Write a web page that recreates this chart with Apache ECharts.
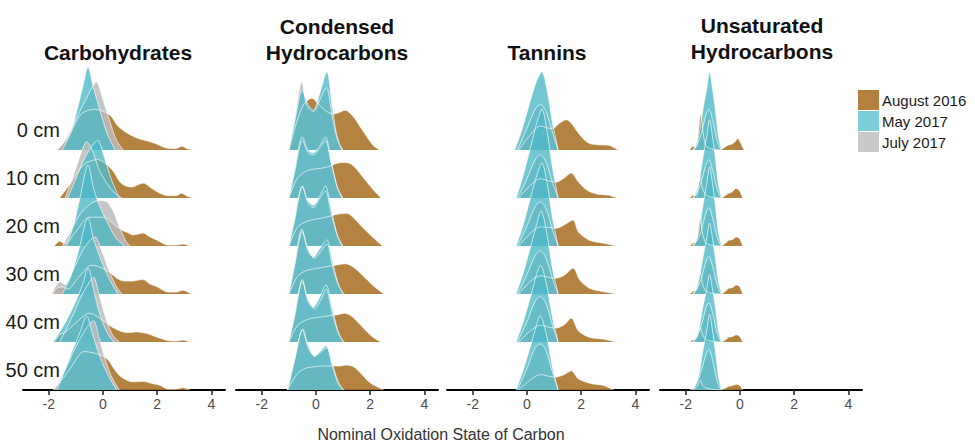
<!DOCTYPE html>
<html><head><meta charset="utf-8">
<script src="https://cdn.jsdelivr.net/npm/echarts@6/dist/echarts.min.js"></script>
<style>html,body{margin:0;padding:0;background:#fff}#c{width:975px;height:443px}</style>
</head><body><div id="c"></div>
<script>
// ---------- data ----------
const depths = ['0 cm', '10 cm', '20 cm', '30 cm', '40 cm', '50 cm'];
const classes = ['Carbohydrates', 'Condensed\nHydrocarbons', 'Tannins', 'Unsaturated\nHydrocarbons'];
const campaigns = ['August 2016', 'May 2017', 'July 2017'];
const xTicks = [-2, 0, 2, 4];
const axisTitle = 'Nominal Oxidation State of Carbon';

// density curves: one list of [oxidation state, density] per depth (0 cm ... 50 cm)
const carbAug = [
  [[-1.7,0],[-1.3,0.25],[-0.8,0.75],[-0.3,0.85],[0.25,0.73],[0.55,0.5],[0.9,0.35],[1.3,0.24],[1.7,0.18],[2.0,0.12],[2.35,0.04],[2.7,0.03],[2.9,0.08],[3.1,0.03],[3.3,0]],
  [[-1.6,0],[-1.2,0.3],[-0.7,0.7],[-0.2,0.8],[0.35,0.58],[0.63,0.33],[0.9,0.24],[1.1,0.23],[1.3,0.28],[1.5,0.31],[1.75,0.22],[2.1,0.1],[2.4,0.05],[2.7,0.05],[2.9,0.1],[3.1,0.04],[3.3,0]],
  [[-1.8,0],[-1.6,0.1],[-1.4,0.05],[-1.0,0.3],[-0.5,0.6],[0.0,0.6],[0.5,0.4],[0.7,0.33],[0.9,0.28],[1.1,0.23],[1.3,0.25],[1.48,0.27],[1.7,0.2],[2.0,0.12],[2.4,0.02],[2.7,0.02],[2.95,0.04],[3.2,0]],
  [[-1.85,0],[-1.7,0.12],[-1.5,0.15],[-1.3,0.1],[-0.9,0.35],[-0.4,0.6],[0.1,0.5],[0.63,0.29],[0.9,0.27],[1.1,0.27],[1.3,0.29],[1.48,0.3],[1.7,0.22],[2.0,0.15],[2.4,0.04],[2.7,0.04],[2.95,0.08],[3.25,0]],
  [[-1.8,0],[-1.6,0.15],[-1.4,0.2],[-1.0,0.4],[-0.5,0.6],[0.0,0.45],[0.33,0.31],[0.55,0.25],[0.74,0.21],[1.0,0.2],[1.25,0.21],[1.6,0.18],[2.0,0.1],[2.4,0.03],[2.7,0.02],[2.95,0.04],[3.2,0]],
  [[-1.85,0],[-1.6,0.15],[-1.2,0.45],[-0.7,0.8],[-0.2,0.75],[0.15,0.65],[0.4,0.45],[0.63,0.29],[0.9,0.2],[1.1,0.17],[1.4,0.18],[1.6,0.17],[1.85,0.13],[2.1,0.1],[2.4,0.02],[2.7,0.02],[2.95,0.05],[3.2,0]]
];
const carbMay = [
  [[-1.5,0],[-1.2,0.35],[-0.95,0.85],[-0.75,1.3],[-0.55,1.73],[-0.35,1.3],[-0.1,0.8],[0.15,0.35],[0.45,0]],
  [[-1.3,0],[-1.0,0.4],[-0.7,0.8],[-0.45,1.05],[-0.2,1.2],[0.05,0.85],[0.3,0.4],[0.6,0]],
  [[-1.35,0],[-1.1,0.4],[-0.85,1.0],[-0.55,1.69],[-0.35,1.2],[-0.1,0.8],[0.2,0.45],[0.5,0.15],[0.8,0]],
  [[-1.5,0],[-1.2,0.35],[-0.9,0.9],[-0.55,1.58],[-0.35,1.15],[-0.1,0.75],[0.2,0.35],[0.55,0]],
  [[-1.85,0],[-1.6,0.2],[-1.3,0.5],[-1.0,0.85],[-0.75,1.2],[-0.55,1.54],[-0.35,1.1],[-0.1,0.55],[0.15,0.2],[0.4,0]],
  [[-1.7,0],[-1.45,0.35],[-1.15,0.79],[-0.85,1.2],[-0.6,1.54],[-0.4,1.2],[-0.15,0.75],[0.15,0.35],[0.5,0]]
];
const carbJul = [
  [[-1.65,0],[-1.3,0.3],[-0.9,0.75],[-0.5,1.2],[-0.25,1.42],[0.0,1.05],[0.25,0.6],[0.5,0.2],[0.75,0]],
  [[-1.4,0],[-1.1,0.45],[-0.8,0.95],[-0.6,1.17],[-0.4,1.0],[-0.15,0.6],[0.15,0.3],[0.45,0.1],[0.7,0]],
  [[-1.5,0],[-1.2,0.3],[-0.8,0.7],[-0.4,0.9],[-0.1,0.95],[0.15,0.92],[0.4,0.7],[0.6,0.4],[0.85,0.1],[1.0,0]],
  [[-1.9,0],[-1.6,0.25],[-1.4,0.2],[-1.1,0.5],[-0.7,0.95],[-0.3,1.19],[-0.05,0.9],[0.25,0.45],[0.5,0.15],[0.7,0]],
  [[-1.6,0],[-1.2,0.45],[-0.8,0.95],[-0.5,1.25],[-0.35,1.35],[-0.15,1.0],[0.1,0.5],[0.35,0.15],[0.6,0]],
  [[-1.8,0],[-1.5,0.3],[-1.0,0.9],[-0.6,1.3],[-0.35,1.44],[-0.15,1.1],[0.05,0.7],[0.3,0.3],[0.6,0]]
];

const condAug = [
  [[-1.0,0],[-0.7,0.6],[-0.45,0.95],[-0.15,1.08],[0.1,0.95],[0.4,0.8],[0.65,0.75],[0.85,0.78],[1.07,0.83],[1.37,0.7],[1.73,0.4],[2.1,0.1],[2.35,0]],
  [[-1.0,0],[-0.7,0.4],[-0.4,0.55],[-0.1,0.6],[0.2,0.62],[0.5,0.66],[0.75,0.72],[1.0,0.74],[1.25,0.72],[1.5,0.6],[1.75,0.42],[2.1,0.18],[2.4,0]],
  [[-1.0,0],[-0.7,0.38],[-0.4,0.5],[-0.1,0.55],[0.2,0.58],[0.5,0.62],[0.77,0.66],[1.14,0.68],[1.4,0.58],[1.7,0.4],[2.1,0.18],[2.45,0]],
  [[-1.0,0],[-0.7,0.35],[-0.4,0.48],[-0.1,0.52],[0.2,0.55],[0.5,0.58],[0.9,0.62],[1.1,0.63],[1.4,0.55],[1.7,0.4],[2.1,0.18],[2.5,0]],
  [[-1.0,0],[-0.7,0.33],[-0.4,0.45],[-0.1,0.5],[0.2,0.52],[0.5,0.55],[0.8,0.57],[1.07,0.6],[1.35,0.52],[1.7,0.32],[2.1,0.1],[2.4,0]],
  [[-1.05,0],[-0.7,0.33],[-0.4,0.45],[-0.1,0.48],[0.2,0.5],[0.5,0.5],[0.9,0.5],[1.1,0.52],[1.4,0.48],[1.7,0.32],[2.0,0.15],[2.5,0]]
];
const condMay = [
  [[-1.0,0],[-0.8,0.55],[-0.5,1.25],[-0.3,0.95],[-0.1,0.83],[0.15,1.2],[0.4,1.63],[0.6,0.9],[0.75,0.35],[0.95,0]],
  [[-1.0,0],[-0.8,0.55],[-0.5,1.27],[-0.3,1.0],[-0.1,0.94],[0.15,1.1],[0.35,1.27],[0.55,0.8],[0.75,0.3],[0.95,0]],
  [[-1.0,0],[-0.8,0.5],[-0.5,1.23],[-0.3,0.95],[-0.1,0.85],[0.15,1.05],[0.35,1.25],[0.55,0.8],[0.75,0.3],[0.95,0]],
  [[-1.0,0],[-0.8,0.55],[-0.5,1.29],[-0.3,0.95],[-0.1,0.77],[0.15,0.95],[0.4,1.13],[0.6,0.7],[0.8,0.25],[1.0,0]],
  [[-1.0,0],[-0.8,0.5],[-0.5,1.25],[-0.3,0.9],[-0.1,0.73],[0.15,0.95],[0.37,1.19],[0.6,0.7],[0.8,0.25],[1.0,0]],
  [[-1.05,0],[-0.8,0.6],[-0.48,1.27],[-0.3,0.95],[-0.05,0.71],[0.15,0.8],[0.37,0.92],[0.6,0.55],[0.8,0.2],[1.0,0]]
];
const condJul = [
  [[-1.0,0],[-0.8,0.6],[-0.52,1.42],[-0.35,0.95],[-0.1,0.8],[0.15,1.05],[0.38,1.3],[0.6,0.7],[0.8,0.2],[1.0,0]],
  [[-1.0,0],[-0.8,0.5],[-0.5,1.2],[-0.3,0.95],[-0.1,0.9],[0.15,1.05],[0.35,1.2],[0.55,0.75],[0.8,0.2],[1.0,0]],
  [[-1.0,0],[-0.8,0.55],[-0.5,1.25],[-0.3,0.9],[-0.1,0.8],[0.15,1.0],[0.35,1.15],[0.55,0.7],[0.8,0.2],[1.0,0]],
  [[-1.0,0],[-0.8,0.6],[-0.52,1.35],[-0.3,0.9],[-0.05,0.75],[0.2,0.9],[0.4,1.05],[0.6,0.6],[0.85,0.15],[1.05,0]],
  [[-1.0,0],[-0.8,0.55],[-0.5,1.3],[-0.3,0.85],[-0.05,0.7],[0.2,0.9],[0.37,1.1],[0.6,0.6],[0.85,0.15],[1.05,0]],
  [[-1.05,0],[-0.8,0.6],[-0.5,1.25],[-0.3,0.9],[-0.05,0.7],[0.2,0.8],[0.4,0.88],[0.6,0.5],[0.85,0.1],[1.05,0]]
];

const tanAug = [
  [[-0.3,0],[0.1,0.3],[0.5,0.5],[0.85,0.45],[1.0,0.46],[1.2,0.56],[1.45,0.63],[1.63,0.56],[1.9,0.35],[2.25,0.15],[2.6,0.11],[3.0,0.1],[3.36,0]],
  [[-0.3,0],[0.1,0.25],[0.5,0.4],[0.85,0.35],[1.07,0.33],[1.33,0.4],[1.63,0.52],[1.9,0.33],[2.25,0.15],[2.6,0.08],[3.0,0.06],[3.3,0]],
  [[-0.3,0],[0.1,0.25],[0.5,0.4],[0.85,0.38],[1.07,0.37],[1.4,0.45],[1.7,0.54],[1.9,0.29],[2.3,0.12],[2.8,0.06],[3.3,0]],
  [[-0.3,0],[0.1,0.25],[0.5,0.38],[0.85,0.34],[1.07,0.33],[1.4,0.4],[1.7,0.54],[1.95,0.29],[2.3,0.12],[2.8,0.05],[3.3,0]],
  [[-0.3,0],[0.1,0.22],[0.5,0.35],[0.85,0.3],[1.07,0.29],[1.4,0.37],[1.63,0.5],[1.9,0.23],[2.3,0.1],[2.8,0.06],[3.3,0]],
  [[-0.3,0],[0.1,0.2],[0.5,0.32],[0.85,0.28],[1.07,0.27],[1.4,0.33],[1.63,0.4],[1.9,0.23],[2.4,0.13],[2.8,0.1],[3.2,0]]
];
const tanMay = [
  [[-0.45,0],[-0.2,0.4],[0.1,0.98],[0.35,1.43],[0.55,1.63],[0.75,1.22],[0.95,0.54],[1.15,0]],
  [[-0.4,0],[-0.15,0.45],[0.15,1.1],[0.38,1.6],[0.55,1.85],[0.75,1.35],[0.95,0.6],[1.15,0]],
  [[-0.4,0],[-0.15,0.42],[0.15,1.05],[0.38,1.5],[0.55,1.73],[0.75,1.28],[0.95,0.55],[1.15,0]],
  [[-0.4,0],[-0.15,0.42],[0.15,1.02],[0.38,1.5],[0.52,1.73],[0.72,1.3],[0.95,0.5],[1.15,0]],
  [[-0.4,0],[-0.15,0.4],[0.15,0.98],[0.35,1.4],[0.5,1.6],[0.7,1.25],[0.95,0.48],[1.15,0]],
  [[-0.4,0],[-0.15,0.4],[0.15,0.95],[0.35,1.35],[0.48,1.55],[0.7,1.2],[0.95,0.45],[1.15,0]]
];
const tanJul = [
  [[-0.35,0],[0.0,0.45],[0.3,0.85],[0.5,0.95],[0.7,0.8],[0.95,0.35],[1.15,0]],
  [[-0.35,0],[0.0,0.4],[0.3,0.8],[0.5,0.9],[0.7,0.75],[0.95,0.3],[1.15,0]],
  [[-0.35,0],[0.0,0.42],[0.3,0.82],[0.5,0.92],[0.7,0.78],[0.95,0.32],[1.15,0]],
  [[-0.35,0],[0.0,0.4],[0.3,0.8],[0.5,0.9],[0.7,0.75],[0.95,0.3],[1.15,0]],
  [[-0.35,0],[0.0,0.42],[0.3,0.85],[0.5,0.95],[0.7,0.8],[0.95,0.33],[1.15,0]],
  [[-0.35,0],[0.0,0.45],[0.3,0.88],[0.5,0.96],[0.7,0.82],[0.95,0.35],[1.15,0]]
];

const unsAug = [
  [[-1.85,0],[-1.75,0.08],[-1.62,0.05],[-1.52,0.45],[-1.44,0.77],[-1.36,0.35],[-1.25,0.08],[-1.1,0.03],[-0.75,0],[-0.58,0.05],[-0.45,0.1],[-0.32,0.12],[-0.2,0.16],[-0.08,0.24],[0.03,0.14],[0.15,0]],
  [[-1.85,0],[-1.72,0.06],[-1.6,0.05],[-1.52,0.3],[-1.46,0.42],[-1.38,0.2],[-1.25,0.06],[-1.1,0.02],[-0.7,0],[-0.55,0.05],[-0.42,0.1],[-0.3,0.12],[-0.15,0.2],[-0.03,0.16],[0.1,0]],
  [[-1.85,0],[-1.72,0.06],[-1.6,0.1],[-1.52,0.4],[-1.46,0.58],[-1.38,0.25],[-1.25,0.06],[-1.1,0.02],[-0.7,0],[-0.55,0.05],[-0.42,0.12],[-0.3,0.13],[-0.12,0.19],[0.0,0.14],[0.1,0]],
  [[-1.85,0],[-1.72,0.06],[-1.6,0.08],[-1.52,0.32],[-1.46,0.44],[-1.38,0.2],[-1.25,0.06],[-1.1,0.02],[-0.7,0],[-0.55,0.05],[-0.42,0.12],[-0.3,0.13],[-0.12,0.19],[0.0,0.14],[0.1,0]],
  [[-1.85,0],[-1.72,0.05],[-1.6,0.08],[-1.52,0.22],[-1.46,0.3],[-1.38,0.15],[-1.25,0.05],[-1.1,0.02],[-0.7,0],[-0.55,0.04],[-0.42,0.1],[-0.3,0.11],[-0.12,0.15],[0.0,0.11],[0.1,0]],
  [[-1.85,0],[-1.72,0.04],[-1.6,0.06],[-1.52,0.15],[-1.46,0.2],[-1.38,0.1],[-1.25,0.04],[-1.1,0.02],[-0.7,0],[-0.55,0.04],[-0.42,0.08],[-0.3,0.09],[-0.12,0.12],[0.0,0.09],[0.1,0]]
];
const unsMay = [
  [[-1.7,0],[-1.52,0.3],[-1.38,0.8],[-1.22,1.3],[-1.12,1.63],[-1.02,1.3],[-0.9,0.8],[-0.8,0.3],[-0.68,0]],
  [[-1.7,0],[-1.52,0.3],[-1.38,0.8],[-1.22,1.3],[-1.12,1.63],[-1.02,1.3],[-0.9,0.8],[-0.8,0.3],[-0.68,0]],
  [[-1.7,0],[-1.52,0.3],[-1.38,0.8],[-1.22,1.32],[-1.12,1.65],[-1.02,1.32],[-0.9,0.8],[-0.8,0.3],[-0.68,0]],
  [[-1.7,0],[-1.52,0.28],[-1.38,0.72],[-1.22,1.18],[-1.12,1.48],[-1.02,1.18],[-0.9,0.72],[-0.8,0.28],[-0.68,0]],
  [[-1.7,0],[-1.52,0.26],[-1.38,0.7],[-1.22,1.12],[-1.12,1.4],[-1.02,1.12],[-0.9,0.7],[-0.8,0.26],[-0.68,0]],
  [[-1.72,0],[-1.52,0.3],[-1.38,0.78],[-1.22,1.26],[-1.12,1.58],[-1.02,1.26],[-0.9,0.78],[-0.8,0.3],[-0.68,0]]
];
const unsJul = [
  [[-1.75,0],[-1.55,0.15],[-1.4,0.4],[-1.25,0.75],[-1.15,0.85],[-1.0,0.6],[-0.85,0.2],[-0.7,0]],
  [[-1.75,0],[-1.55,0.15],[-1.4,0.4],[-1.25,0.7],[-1.15,0.8],[-1.0,0.55],[-0.85,0.2],[-0.7,0]],
  [[-1.75,0],[-1.55,0.15],[-1.4,0.38],[-1.25,0.7],[-1.15,0.8],[-1.0,0.55],[-0.85,0.2],[-0.7,0]],
  [[-1.75,0],[-1.55,0.15],[-1.4,0.38],[-1.25,0.68],[-1.15,0.78],[-1.0,0.55],[-0.85,0.2],[-0.7,0]],
  [[-1.75,0],[-1.55,0.15],[-1.4,0.4],[-1.25,0.72],[-1.15,0.82],[-1.0,0.58],[-0.85,0.2],[-0.7,0]],
  [[-1.75,0],[-1.55,0.2],[-1.4,0.45],[-1.25,0.75],[-1.15,0.85],[-1.0,0.6],[-0.85,0.2],[-0.7,0]]
];

// ---------- layout / style ----------
const FONT = '"Liberation Sans", Arial, Helvetica, sans-serif';
const panelCurves = [
  [carbAug, carbMay, carbJul],
  [condAug, condMay, condJul],
  [tanAug, tanMay, tanJul],
  [unsAug, unsMay, unsJul]
];
const gridLefts = [23, 236, 447, 660];
const gridWidth = 202;
const legendColors = ['#B4803E', '#7ACDD9', '#C9C9C9'];
const fillColors = ['rgb(172,118,45)', 'rgb(80,185,200)', 'rgb(188,188,188)'];
const fillOpacity = [0.9, 0.8, 0.85];
const drawOrder = [0, 2, 1]; // August, July, May (May on top)
const nRows = depths.length;

const grids = [], xAxes = [], yAxes = [], series = [];
panelCurves.forEach((curves, p) => {
  grids.push({left: gridLefts[p], width: gridWidth, top: 54, height: 336});
  xAxes.push({
    type: 'value', gridIndex: p, min: -2.95, max: 4.5,
    splitLine: {show: false},
    axisLine: {show: true, onZero: false, lineStyle: {color: '#000', width: 2}},
    axisTick: {show: true, length: 5, customValues: xTicks, lineStyle: {color: '#222', width: 1.5}},
    axisLabel: {customValues: xTicks, fontSize: 14, color: '#4d4d4d', fontFamily: FONT, margin: 7,
      formatter: v => String(v)}
  });
  yAxes.push({type: 'value', gridIndex: p, min: 0, max: 7, show: false});
  for (let r = 0; r < nRows; r++) {
    const offset = nRows - 1 - r;
    drawOrder.forEach(k => {
      series.push({
        type: 'line', name: campaigns[k], xAxisIndex: p, yAxisIndex: p,
        data: curves[k][r].map(([x, h]) => [x, h + offset]),
        smooth: 0.3, symbol: 'none', silent: true,
        itemStyle: {color: legendColors[k]},
        lineStyle: {color: 'rgba(255,255,255,0.65)', width: 1},
        areaStyle: {color: fillColors[k], opacity: fillOpacity[k], origin: offset}
      });
    });
  }
});
// label grid for depth labels
grids.push({left: 62, width: 10, top: 106, height: 288});
xAxes.push({type: 'value', gridIndex: 4, show: false});
yAxes.push({
  type: 'category', gridIndex: 4, data: depths.slice().reverse(),
  axisLine: {show: false}, axisTick: {show: false}, splitLine: {show: false},
  axisLabel: {margin: 2, fontSize: 20, color: '#1a1a1a', fontFamily: FONT}
});

const titlePos = [[118, 52], [337, 39.5], [547, 52], [762, 38.5]];
const graphic = classes.map((t, i) => ({
  type: 'text', x: titlePos[i][0], y: titlePos[i][1], silent: true,
  style: {text: t, fontSize: 21, fontWeight: 'bold', fontFamily: FONT, fill: '#111',
    align: 'center', verticalAlign: 'middle', lineHeight: 26}
}));
graphic.push({type: 'text', x: 441, y: 434, silent: true,
  style: {text: axisTitle, fontSize: 16, fontFamily: FONT, fill: '#333', align: 'center', verticalAlign: 'middle'}});

const chart = echarts.init(document.getElementById('c'), null, {renderer: 'svg'});
chart.setOption({
  animation: false,
  backgroundColor: '#fff',
  grid: grids, xAxis: xAxes, yAxis: yAxes, series: series,
  legend: {
    data: campaigns.map((c, i) => ({name: c, itemStyle: {color: legendColors[i], borderWidth: 0}})),
    icon: 'rect', orient: 'vertical', left: 858, top: 90, padding: 0,
    itemWidth: 21, itemHeight: 20, itemGap: 1, selectedMode: false,
    itemStyle: {borderWidth: 0},
    textStyle: {fontSize: 15, color: '#1a1a1a', fontFamily: FONT, padding: [0, 0, 0, -2]}
  },
  graphic: graphic
});
</script></body></html>
